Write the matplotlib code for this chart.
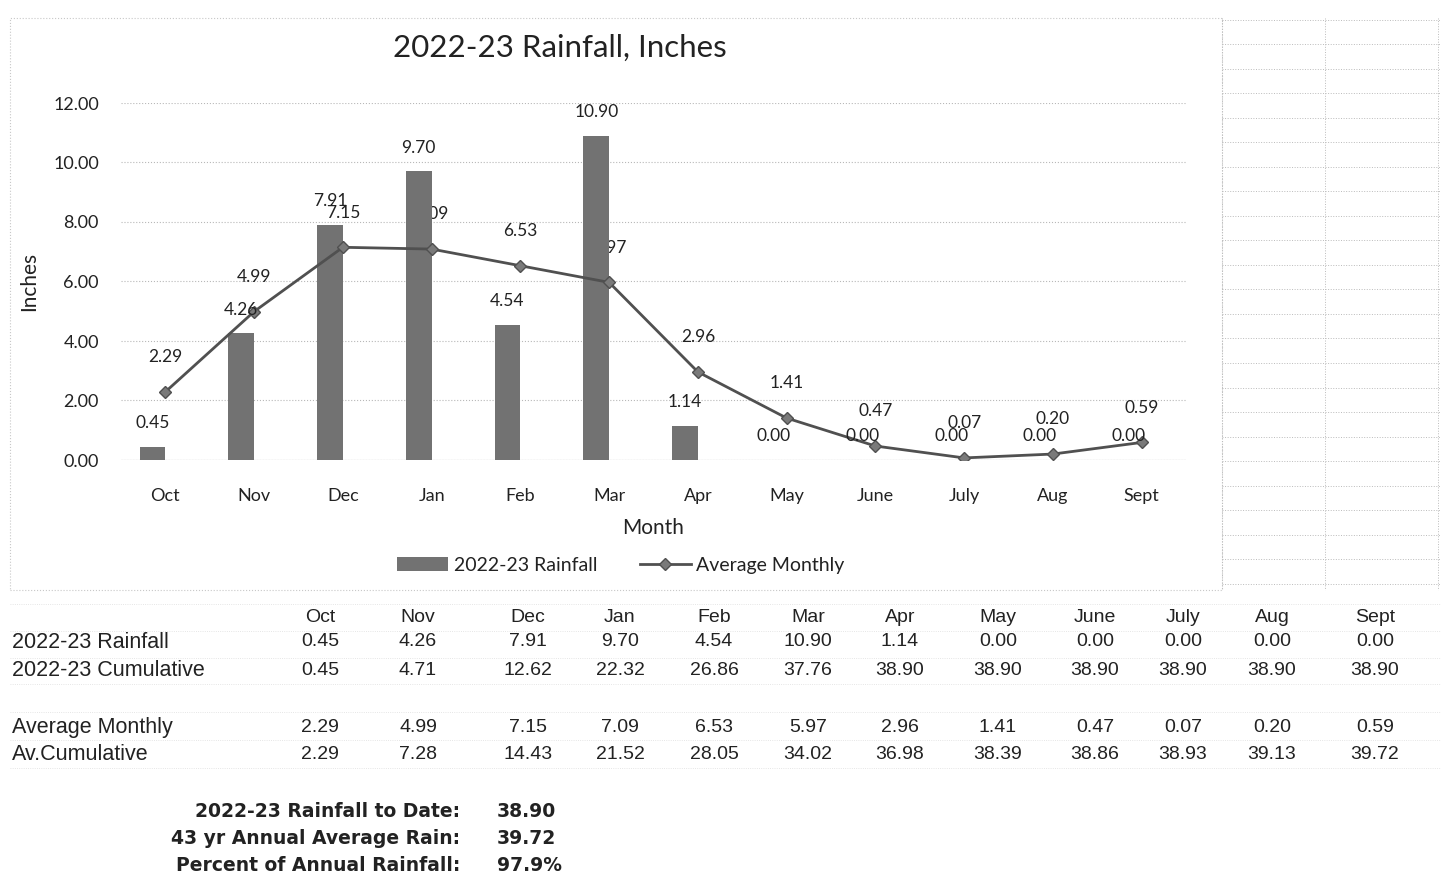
import numpy as np
import matplotlib.pyplot as plt
from matplotlib.patches import Rectangle
from matplotlib.lines import Line2D

months = ["Oct", "Nov", "Dec", "Jan", "Feb", "Mar", "Apr", "May", "June", "July", "Aug", "Sept"]
rain = [0.45, 4.26, 7.91, 9.70, 4.54, 10.90, 1.14, 0.00, 0.00, 0.00, 0.00, 0.00]
rain_cum = [0.45, 4.71, 12.62, 22.32, 26.86, 37.76, 38.90, 38.90, 38.90, 38.90, 38.90, 38.90]
avg = [2.29, 4.99, 7.15, 7.09, 6.53, 5.97, 2.96, 1.41, 0.47, 0.07, 0.20, 0.59]
avg_cum = [2.29, 7.28, 14.43, 21.52, 28.05, 34.02, 36.98, 38.39, 38.86, 38.93, 39.13, 39.72]
summary_labels = ["2022-23 Rainfall to Date:", "43 yr Annual Average Rain:", "Percent of Annual Rainfall:"]
summary_values = ["38.90", "39.72", "97.9%"]

W, H = 1442, 880
def fx(px): return px / W
def fy(py): return 1 - py / H

chart_font = "Lato"
table_font = "Liberation Sans"
bar_col = "#727272"
line_col = "#505050"
txt = "#222222"

fig = plt.figure(figsize=(W / 100, H / 100), dpi=100)

# chart frame and spreadsheet cells on the right
fig.patches.append(Rectangle((fx(10), fy(590)), fx(1222) - fx(10), fy(18) - fy(590),
                             transform=fig.transFigure, fill=False, ec="#c8c8c8", lw=0.8, ls=":"))
for py in np.arange(20, 600, 24.5):
    fig.add_artist(Line2D([fx(1222), fx(1440)], [fy(py), fy(py)], color="#bbbbbb", lw=0.7, ls=":"))
for px in [1222, 1325, 1438]:
    fig.add_artist(Line2D([fx(px), fx(px)], [fy(18), fy(590)], color="#bbbbbb", lw=0.7, ls=":"))

ax = fig.add_axes([fx(121), fy(460), fx(1186) - fx(121), fy(103) - fy(460)])
x = np.arange(len(months))
bw = 0.29
bars = ax.bar(x - bw / 2, rain, width=bw, color=bar_col, zorder=2, label="2022-23 Rainfall")
ax.plot(x, avg, color=line_col, lw=2, marker="D", ms=6.5, mfc="#7a7a7a", mec=line_col,
        zorder=4, label="Average Monthly")

for xi, v in zip(x, rain):
    ax.annotate(f"{v:.2f}", (xi - bw / 2, v), xytext=(0, 17), textcoords="offset points",
                ha="center", va="center", fontsize=12.5, family=chart_font, color=txt, zorder=5)
for xi, v in zip(x, avg):
    ax.annotate(f"{v:.2f}", (xi, v), xytext=(0, 25), textcoords="offset points",
                ha="center", va="center", fontsize=12.5, family=chart_font, color=txt, zorder=1)

ax.set_xlim(-0.5, len(months) - 0.5)
ax.set_ylim(0, 12)
ax.set_yticks(np.arange(0, 12.1, 2))
ax.set_yticklabels([f"{t:.2f}" for t in np.arange(0, 12.1, 2)])
ax.set_xticks(x)
ax.set_xticklabels(months)
ax.tick_params(axis="x", length=0, pad=20, labelsize=13, labelcolor=txt)
ax.tick_params(axis="y", length=0, pad=16, labelsize=13, labelcolor=txt)
for lab in ax.get_xticklabels() + ax.get_yticklabels():
    lab.set_family(chart_font)
ax.grid(axis="y", color="#b8b8b8", lw=0.8, ls=":", zorder=0)
ax.set_axisbelow(True)
for s in ax.spines.values():
    s.set_visible(False)
ax.axhline(0, color="#b0b0b0", lw=0.8, zorder=1)
ax.set_ylabel("Inches", fontsize=15, family=chart_font, color=txt, labelpad=10)
ax.set_xlabel("Month", fontsize=15, family=chart_font, color=txt, labelpad=10)

fig.text(fx(560), fy(48), "2022-23 Rainfall, Inches", ha="center", va="center",
         fontsize=22.5, family=chart_font, color=txt)

fig.legend(handles=[bars, ax.lines[0]], loc="center", bbox_to_anchor=(fx(621), fy(565)),
           ncol=2, frameon=False, prop={"family": chart_font, "size": 14},
           handlelength=2.6, columnspacing=2.2, handletextpad=0.3, labelcolor=txt)

# table below the chart
col_x = [320, 418, 528, 620, 714, 808, 900, 998, 1095, 1183, 1272, 1375]
tkw = dict(family=table_font, fontsize=14, color=txt, va="center")
for cx, m in zip(col_x, months):
    fig.text(fx(cx), fy(617), m, ha="center", **tkw)
rows = [("2022-23 Rainfall", rain, 642), ("2022-23 Cumulative", rain_cum, 670),
        ("Average Monthly", avg, 727), ("Av.Cumulative", avg_cum, 754)]
for name, vals, py in rows:
    fig.text(fx(12), fy(py), name, ha="left", family=table_font, fontsize=15.5,
             color=txt, va="center")
    for cx, v in zip(col_x, vals):
        fig.text(fx(cx), fy(py), f"{v:.2f}", ha="center", **tkw)

for py in [604, 631, 658, 684, 712, 740, 768]:
    fig.add_artist(Line2D([fx(10), fx(1440)], [fy(py), fy(py)], color="#dddddd", lw=0.6, ls=":"))

for i, (lab, val) in enumerate(zip(summary_labels, summary_values)):
    py = 811 + 27 * i
    fig.text(fx(460), fy(py), lab, ha="right", va="center", family="DejaVu Sans",
             fontsize=13.5, weight="bold", color=txt)
    fig.text(fx(497), fy(py), val, ha="left", va="center", family="DejaVu Sans",
             fontsize=13.5, weight="bold", color=txt)

fig.savefig("out.png", dpi=100, facecolor="white")
